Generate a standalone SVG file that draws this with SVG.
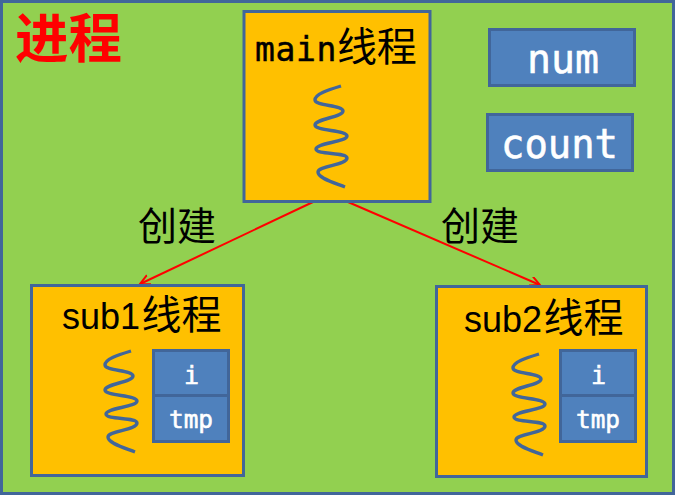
<svg xmlns="http://www.w3.org/2000/svg" width="675" height="495" viewBox="0 0 675 495">
<style>
.box{fill:#ffc000;stroke:#41669a;stroke-width:3}
.var{fill:#4f81bd;stroke:#41669a;stroke-width:3}
.spring{fill:none;stroke:#41669a;stroke-width:3.4;stroke-linecap:butt}
.cjk{font-family:"Noto Sans CJK SC",sans-serif;font-size:40px;fill:#000;stroke:none;letter-spacing:0}
.title{font-family:"DejaVu Sans Mono","Noto Sans CJK SC",monospace;fill:#000;stroke:#000;stroke-width:.5;letter-spacing:.6px}
.sub{font-family:"Liberation Sans","Noto Sans CJK SC",sans-serif;font-size:36px;fill:#000}
.w{fill:#fff;stroke:#fff;stroke-width:.6;font-family:"DejaVu Sans Mono",monospace}
.link{fill:none;stroke:#f00;stroke-width:2}
</style>
<defs>
<marker id="arrow" markerWidth="12" markerHeight="12" refX="10" refY="5" orient="auto" markerUnits="userSpaceOnUse"><path d="M0 0L10 5L0 10" fill="none" stroke="#f00" stroke-width="2"/></marker>
<path id="spr" d="M131 351C118 355 105 359 105 365C105 371 133 370 133 376C133 382 105 384 105 390C105 396 137 395 137 401C137 407 106 408 106 414C106 420 137 417 137 423C137 430 108 431 108 437C108 443 122 447 135 452"/>
</defs>
<g id="process">
<rect x="1.5" y="1.5" width="672" height="492" fill="#92d050" stroke="#41669a" stroke-width="3"/>
<text x="15" y="58" font-size="53.5" font-weight="bold" fill="#f00" font-family="'Liberation Sans','Noto Sans CJK SC',sans-serif">进程</text>
</g>
<g id="connectors">
<path class="link" d="M313 202L140 284" marker-end="url(#arrow)"/>
<path class="link" d="M348 202L540 285" marker-end="url(#arrow)"/>
</g>
<g id="label-left"><text x="138" y="240" font-size="39" font-family="'Noto Sans CJK SC',sans-serif">创建</text></g>
<g id="label-right"><text x="441" y="240" font-size="39" font-family="'Noto Sans CJK SC',sans-serif">创建</text></g>
<g id="main">
<rect class="box" x="244" y="11.5" width="186" height="190"/>
<text x="255" y="61" class="title" font-size="33">main<tspan class="cjk">线程</tspan></text>
<use href="#spr" class="spring" transform="translate(210,-265)"/>
</g>
<g id="num"><rect class="var" x="489.5" y="29.5" width="145" height="56"/><text class="w" x="527" y="73" font-size="40" textLength="72" lengthAdjust="spacingAndGlyphs">num</text></g>
<g id="count"><rect class="var" x="487.5" y="114.5" width="145" height="56"/><text class="w" x="501" y="158" font-size="40" textLength="117" lengthAdjust="spacingAndGlyphs">count</text></g>
<g id="sub1">
<rect class="box" x="31.5" y="285.5" width="212" height="190"/>
<text x="62" y="329" class="sub">sub1<tspan class="cjk" dx="1.5">线程</tspan></text>
<use href="#spr" class="spring"/>
<rect class="var" x="153.5" y="350.5" width="75" height="45"/>
<rect class="var" x="153.5" y="395.5" width="75" height="46"/>
<text class="w" x="184" y="384" font-size="25">i</text>
<text class="w" x="169" y="428" font-size="25" textLength="44" lengthAdjust="spacingAndGlyphs">tmp</text>
</g>
<g id="sub2">
<rect class="box" x="436.5" y="286.5" width="210" height="190"/>
<text x="464" y="332" class="sub">sub2<tspan class="cjk" dx="1.5">线程</tspan></text>
<use href="#spr" class="spring" transform="translate(408,3)"/>
<rect class="var" x="560.5" y="350.5" width="75" height="45"/>
<rect class="var" x="560.5" y="395.5" width="75" height="46"/>
<text class="w" x="591" y="384" font-size="25">i</text>
<text class="w" x="576" y="428" font-size="25" textLength="44" lengthAdjust="spacingAndGlyphs">tmp</text>
</g>
</svg>
